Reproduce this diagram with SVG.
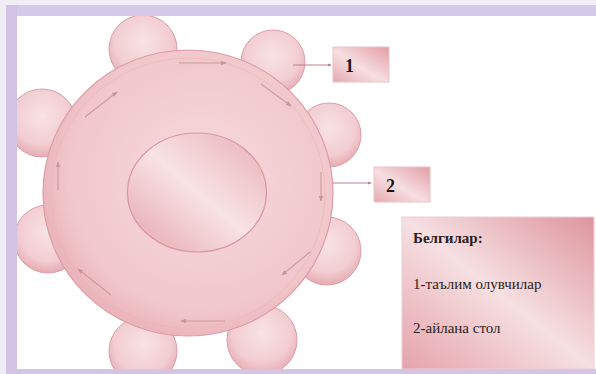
<svg xmlns="http://www.w3.org/2000/svg" width="596" height="374" viewBox="0 0 596 374">
<defs>
<radialGradient id="gSeat" cx="0.5" cy="0.4" r="0.6">
<stop offset="0" stop-color="#f8e3e5"/>
<stop offset="0.7" stop-color="#f2cdd1"/>
<stop offset="1" stop-color="#e6abb2"/>
</radialGradient>
<radialGradient id="gBig" cx="0.55" cy="0.45" r="0.55">
<stop offset="0" stop-color="#f6dadd"/>
<stop offset="0.85" stop-color="#f1c7cb"/>
<stop offset="1" stop-color="#ebb6bb"/>
</radialGradient>
<linearGradient id="gInner" x1="0.1" y1="0.9" x2="0.9" y2="0.1">
<stop offset="0" stop-color="#e8b0b6"/>
<stop offset="0.5" stop-color="#f8e3e5"/>
<stop offset="1" stop-color="#ebb9be"/>
</linearGradient>
<linearGradient id="gBox" x1="0" y1="1" x2="1" y2="0">
<stop offset="0" stop-color="#e6a9b0"/>
<stop offset="0.45" stop-color="#f6dfe1"/>
<stop offset="1" stop-color="#e39ea6"/>
</linearGradient>
<linearGradient id="gLegend" x1="0" y1="1" x2="1" y2="0">
<stop offset="0" stop-color="#e5a3ab"/>
<stop offset="0.5" stop-color="#f6e0e2"/>
<stop offset="1" stop-color="#dd959d"/>
</linearGradient>
<marker id="ah" viewBox="0 0 10 10" refX="9" refY="5" markerWidth="5" markerHeight="5" orient="auto">
<path d="M0,1 L10,5 L0,9 Z" fill="#c8939a"/>
</marker>
<marker id="dot" viewBox="0 0 10 10" refX="5" refY="5" markerWidth="4" markerHeight="4" orient="auto">
<path d="M0,1 L10,5 L0,9 Z" fill="#b97e87"/>
</marker>
</defs>
<style>
.seat{fill:url(#gSeat);stroke:#dba0a7;stroke-width:1}
.flow{stroke:#cc99a0;stroke-width:1.1;fill:none;marker-end:url(#ah)}
.conn{stroke:#b98089;stroke-width:1;fill:none;marker-end:url(#dot)}
.box{fill:url(#gBox);stroke:#e7c3c7;stroke-width:1}
.num{font-family:"Liberation Serif",serif;font-weight:bold;font-size:18px;fill:#1d1416}
.leg{font-family:"Liberation Serif",serif;font-size:15px;fill:#2a1e20}
</style>
<rect x="0" y="0" width="596" height="374" fill="#ffffff"/>
<g id="seats">
<g id="seat-top"><circle class="seat" cx="143" cy="49" r="34"/></g>
<g id="seat-topright"><circle class="seat" cx="273" cy="62" r="32"/></g>
<g id="seat-right"><circle class="seat" cx="329" cy="135" r="32"/></g>
<g id="seat-rightlower"><circle class="seat" cx="327" cy="251" r="34"/></g>
<g id="seat-bottomright"><circle class="seat" cx="262" cy="340" r="35"/></g>
<g id="seat-bottomleft"><circle class="seat" cx="143" cy="351" r="34"/></g>
<g id="seat-leftlower"><circle class="seat" cx="48" cy="239" r="34"/></g>
<g id="seat-leftupper"><circle class="seat" cx="42" cy="123" r="34"/></g>
</g>
<g id="table">
<ellipse cx="188" cy="193" rx="145" ry="143" fill="url(#gBig)" stroke="#dc9ca4" stroke-width="1.2"/>
<ellipse cx="188" cy="193" rx="137" ry="135" fill="none" stroke="#e6b2b8" stroke-width="1" opacity="0.5"/>
</g>
<g id="center">
<ellipse cx="197" cy="192.5" rx="69.5" ry="59.5" fill="url(#gInner)" stroke="#d9959d" stroke-width="1.2"/>
</g>
<g id="connectors">
<line class="flow" x1="179" y1="63" x2="226" y2="63"/>
<line class="flow" x1="261" y1="84" x2="291" y2="106"/>
<line class="flow" x1="321" y1="172" x2="321" y2="201"/>
<line class="flow" x1="310" y1="252" x2="282" y2="275"/>
<line class="flow" x1="225" y1="321" x2="181" y2="321"/>
<line class="flow" x1="111" y1="295" x2="78" y2="269"/>
<line class="flow" x1="58" y1="190" x2="58" y2="162"/>
<line class="flow" x1="85" y1="117" x2="117" y2="92"/>
<line class="conn" x1="293" y1="65" x2="330" y2="65"/>
<line class="conn" x1="333" y1="183" x2="370" y2="183"/>
</g>
<g id="label1">
<rect class="box" x="333" y="47" width="56" height="35"/>
<text class="num" x="345" y="72">1</text>
</g>
<g id="label2">
<rect class="box" x="374" y="167" width="56" height="35"/>
<text class="num" x="386" y="192">2</text>
</g>
<g id="legend">
<rect x="402" y="217" width="192" height="152" fill="url(#gLegend)" stroke="#ecd0d3" stroke-width="1"/>
<text class="leg" x="413" y="243" font-weight="bold" font-size="16">Белгилар:</text>
<text class="leg" x="413" y="289">1-таълим олувчилар</text>
<text class="leg" x="413" y="333">2-айлана стол</text>
</g>
<g id="frame">
<rect x="0" y="0" width="596" height="5" fill="#f1edf7"/>
<rect x="0" y="0" width="6" height="374" fill="#f1edf7"/>
<rect x="6" y="5" width="590" height="11" fill="#d6c8e8"/>
<rect x="6" y="5" width="11" height="369" fill="#d2c3e5"/>
<rect x="6" y="369" width="590" height="5" fill="#d4c5e7"/>
</g>
</svg>
